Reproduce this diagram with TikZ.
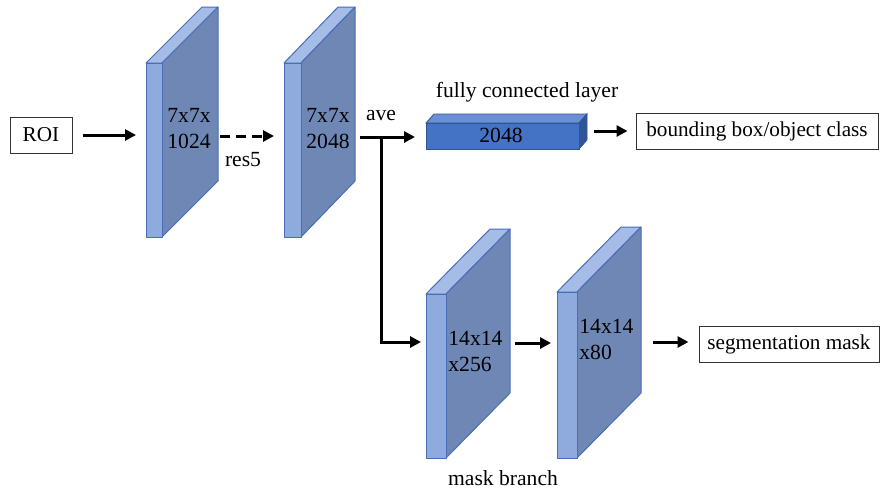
\documentclass[tikz,border=0pt]{standalone}
\usepackage{fontspec}
\setmainfont{Liberation Serif}
\usetikzlibrary{arrows.meta}
\definecolor{slabfrontc}{HTML}{8FAADC}
\definecolor{slabsidec}{HTML}{6F87B5}
\definecolor{slabtopc}{HTML}{A5BCE6}
\definecolor{slabedge}{HTML}{4A6DB8}
\definecolor{fcfront}{HTML}{4472C4}
\definecolor{fctop}{HTML}{6A8FD4}
\definecolor{fcside}{HTML}{2F5597}
\tikzset{
  slabfront/.style={fill=slabfrontc,draw=slabedge,line width=0.5pt,line join=round},
  slabside/.style={fill=slabsidec,draw=slabedge,line width=0.5pt,line join=round},
  slabtop/.style={fill=slabtopc,draw=slabedge,line width=0.5pt,line join=round},
  fcf/.style={fill=fcfront,draw=fcside,line width=0.4pt},
  fct/.style={fill=fctop,draw=fcside,line width=0.4pt},
  fcs/.style={fill=fcside,draw=fcside,line width=0.4pt},
  outbox/.style={draw=black!80,line width=0.5pt,minimum height=18pt,inner sep=0pt},
  lbl/.style={inner sep=0pt,font=\fontsize{10.8}{13}\selectfont},
  arr/.style={line width=1.5pt,-{Triangle[length=5.5pt,width=5.5pt]}},
}
\newcommand\slabdraw[6]{%
  \filldraw[slabtop] (#1,#2) -- ++(#5,-#6) -- ++(#4,0) -- ++(-#5,#6) -- cycle;
  \filldraw[slabside] (#1+#4,#2) -- ++(#5,-#6) -- (#1+#4+#5,#3-#6) -- (#1+#4,#3) -- cycle;
  \filldraw[slabfront] (#1,#2) rectangle (#1+#4,#3);
}
\begin{document}
\begin{tikzpicture}[x=0.5pt,y=-0.5pt,font=\fontsize{10.6}{12.8}\selectfont]
\useasboundingbox (0,0) rectangle (881,493);

% slabs
\slabdraw{146}{63}{237}{16}{56}{56}
\slabdraw{284}{63}{237}{17}{54}{56}
\slabdraw{426}{294}{458}{20}{64}{65}
\slabdraw{557}{292}{458}{20}{64}{65}

% fully connected layer
\filldraw[fct] (426,123) -- (434,114) -- (587,114) -- (579,123) -- cycle;
\filldraw[fcs] (579,123) -- (587,114) -- (587,140) -- (579,149) -- cycle;
\filldraw[fcf] (426,123) rectangle (579,149);

% boxes
\node[outbox,minimum width=31pt] (roi) at (41,135) {ROI};
\node[outbox,minimum width=121pt] (bbox) at (757,131) {bounding box/object class};
\node[outbox,minimum width=90pt] (seg) at (789,344) {segmentation mask};

% texts
\node[lbl,align=center] (t1) at (189,129) {7x7x\\1024};
\node[lbl,align=center] (t2) at (328,129) {7x7x\\2048};
\node[lbl,align=left,anchor=west] (t3) at (448,351) {14x14\\x256};
\node[lbl,align=left,anchor=west] (t4) at (579,339) {14x14\\x80};
\node[lbl] (fcnum) at (501,135) {2048};
\node[lbl] (fclbl) at (527,92) {fully connected layer};
\node[lbl] (res) at (243,160) {res5};
\node[lbl] (ave) at (381,116) {ave};
\node[lbl] (mb) at (503,478) {mask branch};

% connector anchors
\coordinate (s1in) at (136,135);
\coordinate (s1out) at (220,136);
\coordinate (s2in) at (274,136);
\coordinate (s2out) at (360,137);
\coordinate (fcin) at (415,137);
\coordinate (fcout) at (594,131);
\coordinate (split) at (381,137);
\coordinate (corner) at (381,342);
\coordinate (m1in) at (421,342);
\coordinate (m1out) at (515,343);
\coordinate (m2in) at (551,343);
\coordinate (m2out) at (653,342);

% connectors
\draw[arr] ([xshift=5pt]roi.east) -- (s1in);
\draw[arr,dash pattern=on 5pt off 3pt] (s1out) -- (s2in);
\draw[arr] (s2out) -- (fcin);
\draw[arr] (fcout) -- ([xshift=-4pt]bbox.west |- fcout);
\draw[arr] (split) -- (corner) -- (m1in);
\draw[arr] (m1out) -- (m2in);
\draw[arr] (m2out) -- ([xshift=-5pt]seg.west |- m2out);
\end{tikzpicture}
\end{document}
